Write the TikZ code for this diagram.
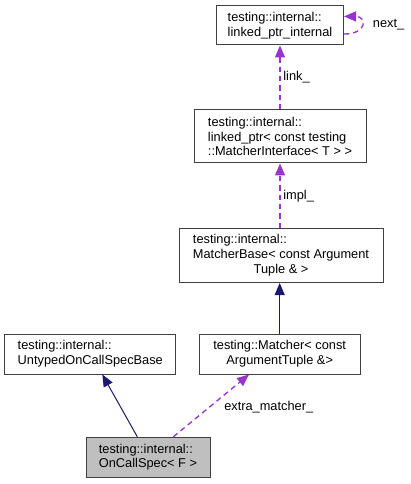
\documentclass[tikz,border=0pt]{standalone}
\usepackage{fontspec}
\setmainfont{Liberation Sans}
\usetikzlibrary{arrows.meta}

\begin{document}
\begin{tikzpicture}[x=0.75pt, y=-0.75pt, font=\fontsize{9.6}{11}\selectfont,
  cls/.style 2 args={draw=black!75, line width=0.75pt, fill=white, align=left,
    inner sep=0pt, minimum width=#1*0.75pt, minimum height=#2*0.75pt},
  tip/.style={-{Triangle[length=9pt, width=7.5pt]}},
  usage/.style={tip, draw={rgb,255:red,154;green,50;blue,205}, dash pattern=on 4pt off 3pt, line width=1pt},
  inherit/.style={tip, draw={rgb,255:red,25;green,25;blue,112}, line width=0.75pt},
  lbl/.style={inner sep=2pt}]
\useasboundingbox (0,0) rectangle (410,484);
% classes
\node[cls={127}{39}] (lpi) at (280,25.5) {testing::internal::\\linked\_ptr\_internal};
\node[cls={172}{53}] (ptr) at (280,136.5) {testing::internal::\\linked\_ptr< const testing\\::MatcherInterface< T > >};
\node[cls={204}{54}] (base) at (281,255.5) {\begin{tabular}{@{}l@{}}testing::internal::\\MatcherBase< const Argument\\\multicolumn{1}{@{}c@{}}{Tuple \& >}\end{tabular}};
\node[cls={161}{40}, align=center] (matcher) at (279.7,354) {testing::Matcher< const\\ArgumentTuple \&>};
\node[cls={171}{40}] (untyped) at (90.3,354) {testing::internal::\\UntypedOnCallSpecBase};
\node[cls={124}{40}, fill=black!25] (ocs) at (148,457.3) {testing::internal::\\OnCallSpec< F >};
% relations
\draw[usage] ([yshift=-6.4pt]lpi.east) to[out=0, in=0, looseness=3.4] ([yshift=6.8pt]lpi.east);
\node[lbl, anchor=west] at (370,25) {next\_};
\draw[usage] (ptr.north) -- (lpi.south) node[midway, right, lbl] {link\_};
\draw[usage] (base.north -| ptr.south) -- (ptr.south) node[midway, right, lbl] {impl\_};
\draw[inherit] (matcher.north) -- (matcher.north |- base.south);
\draw[inherit] ([xshift=-8pt]ocs.north) -- ([xshift=9pt]untyped.south);
\draw[usage] ([xshift=19pt]ocs.north) -- ([xshift=-23pt]matcher.south) node[pos=0.47, right, lbl, xshift=9pt] {extra\_matcher\_};
\end{tikzpicture}
\end{document}
